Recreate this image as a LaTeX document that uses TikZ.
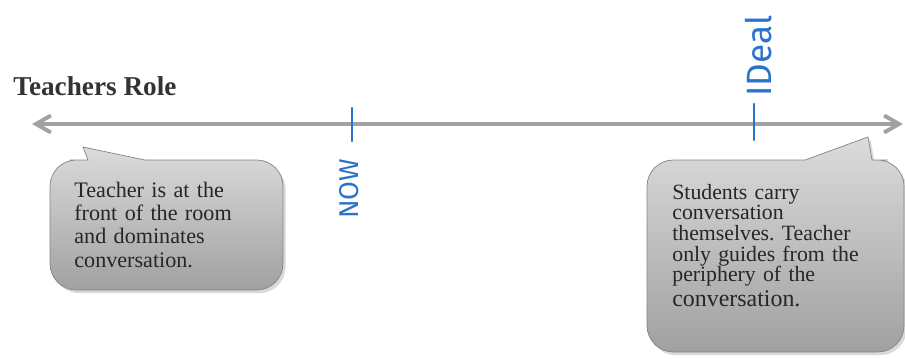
\documentclass[tikz,border=0pt]{standalone}
\usepackage{fontspec}
\setmainfont{Liberation Serif}
\newfontfamily\handfont{Fira Sans}
\usetikzlibrary{arrows.meta,calc,positioning,shadows}
\definecolor{axisgray}{rgb}{0.63, 0.63, 0.63}
\definecolor{penblue}{rgb}{0.16, 0.45, 0.80}
\definecolor{bubbletop}{rgb}{0.86, 0.86, 0.86}
\definecolor{bubblebottom}{rgb}{0.63, 0.63, 0.63}
\definecolor{bubbleedge}{rgb}{0.52, 0.52, 0.52}
\frenchspacing
\tikzset{
  heading/.style={
    anchor=base west,
    inner sep=0pt,
    text=black!80,
    font=\bfseries\fontsize{15.5}{18}\selectfont
  },
  axis/.style={
    {Straight Barb[length=3mm,width=3.4mm]}-{Straight Barb[length=3mm,width=3.4mm]},
    line width=2.2pt,
    axisgray
  },
  pentick/.style={
    penblue,
    line width=1.3pt,
    line cap=round
  },
  pen/.style={
    penblue,
    rotate=90,
    inner sep=0pt,
    font=\handfont\fontsize{15.5}{15}\selectfont
  },
  bubble/.style={
    draw=bubbleedge,
    thin,
    top color=bubbletop,
    bottom color=bubblebottom,
    drop shadow={opacity=.3, shadow xshift=1.5pt, shadow yshift=-1.8pt}
  },
  note/.style={
    anchor=base west,
    align=left,
    inner sep=0pt,
    text=black!85,
    font=\fontsize{12.6}{13.3}\selectfont
  }
}

\begin{document}
\begin{tikzpicture}[x=0.02cm, y=-0.02cm]
\useasboundingbox (0,0) rectangle (905,358);

% speech bubbles; the extra points on the top edge keep the pointer sharp
\path[bubble] (83,147) -- (88,160) -- (70,160) [rounded corners=15]
  -- (50,160) -- (50,290) -- (283,290) -- (283,160) -- (200,160)
  [sharp corners] -- (145,160) -- cycle;
\path[bubble] (868,137) -- (872,160) -- (888,160) [rounded corners=15]
  -- (904,160) -- (904,352) -- (647,352) -- (647,160) -- (730,160)
  [sharp corners] -- (805,160) -- cycle;

\node[heading] (title) at (13,95) {Teachers Role};

\node[note, text width=4.2cm] (front) at (74,197)
  {Teacher is at the\\front of the room\\and dominates\\conversation.};
\node[note, text width=4.6cm, font=\fontsize{12.4}{11.8}\selectfont] (periphery) at (672,199)
  {Students carry\\conversation\\themselves. Teacher\\only guides from the\\periphery of the\\[2pt]{\fontsize{13.6}{12}\selectfont conversation.}};

% the scale
\coordinate (lo) at (32,124);
\coordinate (hi) at (903,124);
\draw[axis] (lo) -- (hi);

% hand marks
\coordinate (nowtop) at (352,108);
\coordinate (nowbot) at (352,141);
\draw[pentick] (nowtop) -- (nowbot);
\node[pen] (now) at (349,189) {NOW};

\coordinate (idealtop) at (754,104);
\coordinate (idealbot) at (754,140);
\draw[pentick] (idealtop) -- (idealbot);
\node[pen, font=\handfont\fontsize{20}{20}\selectfont] (ideal) at (759,56) {IDeal};
\end{tikzpicture}
\end{document}
